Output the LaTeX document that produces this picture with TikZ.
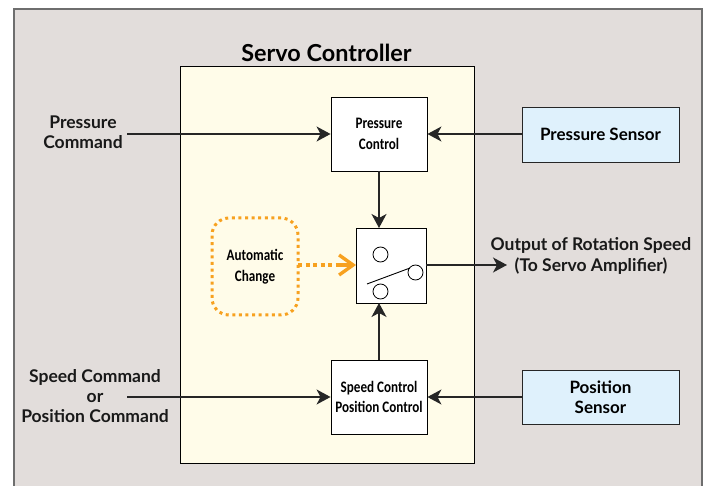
\documentclass[tikz,border=0pt]{standalone}
\usepackage{fontspec}
\setmainfont{Lato}
\usetikzlibrary{arrows.meta,positioning}
\definecolor{panelgray}{HTML}{E2DDDB}
\definecolor{panelline}{HTML}{6E6E6E}
\definecolor{ctrlyellow}{HTML}{FFFCE9}
\definecolor{sensorblue}{HTML}{DFF1FC}
\definecolor{autoorange}{HTML}{F7A11F}
\newfontfamily\narrowfont[FakeStretch=0.82]{Carlito}
\tikzset{
  x=1pt,y=-1pt,
  lbl/.style={font=\fontsize{17.5}{20.4}\selectfont\bfseries,align=center,text=black!90,inner sep=0pt},
  ctrlbox/.style={draw=black,line width=0.9pt,fill=white,minimum width=96pt,minimum height=74pt,inner sep=0pt,align=center,font=\narrowfont\fontsize{16}{20.5}\selectfont\bfseries},
  sensorbox/.style={draw=black!85,line width=0.9pt,fill=sensorblue,minimum width=157pt,inner sep=0pt,align=center,font=\fontsize{17}{20.4}\selectfont\bfseries},
  conn/.style={line width=1.3pt,draw=black!85,-{Stealth[length=14pt,width=15pt,inset=4pt]}},
  pin/.style={circle,draw=black,line width=0.8pt,fill=white,minimum size=15pt,inner sep=0pt},
}
\begin{document}
\begin{tikzpicture}
\useasboundingbox (0,0) rectangle (707,486);
\fill[panelgray] (14,9) rectangle (702,486);
\draw[panelline,line width=1.2pt] (14,486) -- (14,9) -- (702,9) -- (702,486);
\draw[black,line width=1pt,fill=ctrlyellow] (180,67) rectangle (474,463);
\node[fill=panelgray,inner xsep=7pt,inner ysep=3pt,font=\fontsize{23.4}{27}\selectfont\bfseries] (title) at (331,53) {Servo Controller\rule{9pt}{0pt}};
\node[ctrlbox] (pc) at (379,134) {Pressure\\Control};
\node[ctrlbox] (sc) at (379,397) {Speed Control\\Position Control};
\node[ctrlbox,minimum width=70pt,minimum height=75pt] (sw) at (391,265.5) {};
\node[sensorbox,minimum height=55pt] (ps) at (600.5,134.5) {Pressure Sensor};
\node[sensorbox,minimum height=54pt] (pos) at (600.5,397) {Position\\Sensor};
\node[draw=autoorange,line width=3pt,dash pattern=on 3pt off 3.6pt,rounded corners=17pt,minimum width=86pt,minimum height=97pt,inner sep=0pt,align=center,font=\narrowfont\fontsize{16}{20.5}\selectfont\bfseries] (auto) at (255,266.5) {Automatic\\Change};
\node[lbl] (pcmd) at (83,132.5) {Pressure\\Command};
\node[lbl] (scmd) at (95,396) {Speed Command\\or\\Position Command};
\node[lbl] (out) at (591,256) {Output of Rotation Speed\\(To Servo Amplifier)};
\node[pin] (p1) at (380.5,254.5) {};
\node[pin] (p2) at (380.5,291.5) {};
\node[pin] (p3) at (415.5,272.5) {};
\coordinate (lever) at (367,284);
\coordinate (pstart) at (127,134);
\coordinate (sstart) at (127,397);
\coordinate (oend) at (507,265);
\coordinate (swtop) at (379,228);
\coordinate (swbot) at (379,303);
\coordinate (achg) at (298,265);
\coordinate (abarb) at (336,265);
\coordinate (swin) at (356,265);
\draw[line width=0.9pt,black] (lever) -- (410,268);
\draw[conn] (pstart) -- (pc.west);
\draw[conn] (sstart) -- (sc.west);
\draw[conn] (ps.west |- pc.east) -- (pc.east);
\draw[conn] (pos.west) -- (sc.east);
\draw[conn] (pc.south) -- (swtop);
\draw[conn] (sc.north) -- (swbot);
\draw[conn] (sw.east |- oend) -- (oend);
\draw[autoorange,line width=3.4pt,dash pattern=on 4pt off 3.5pt] (achg) -- (abarb);
\draw[autoorange,line width=3.4pt,-{Straight Barb[length=14pt,width=20pt]}] (abarb) -- (swin);
\end{tikzpicture}
\end{document}
